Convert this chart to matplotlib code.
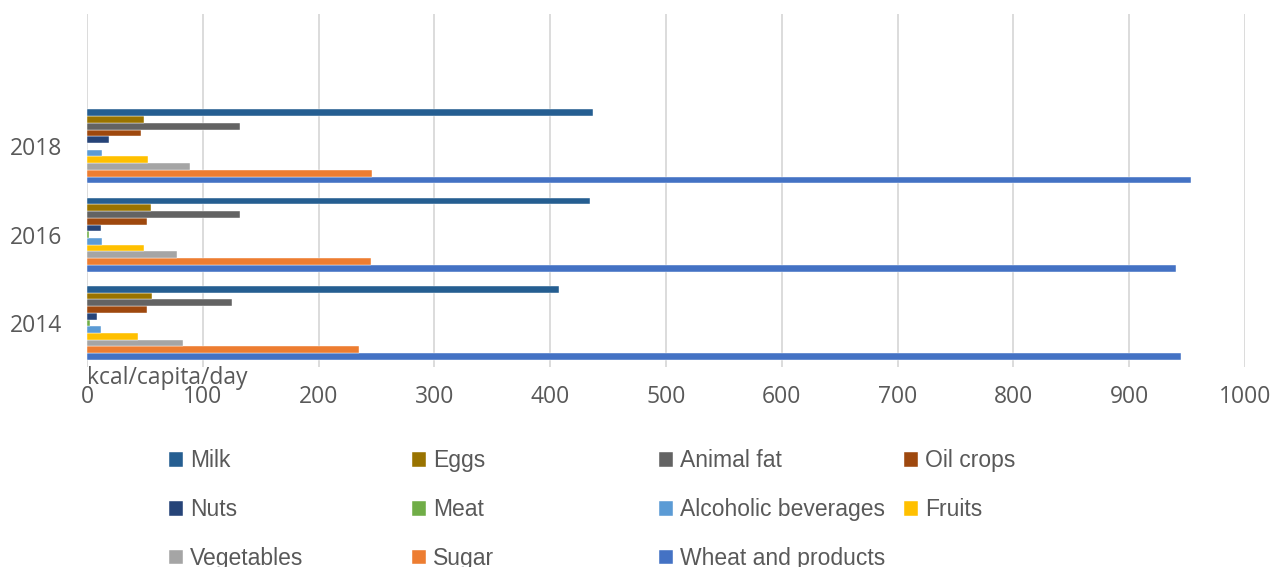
import numpy as np
import matplotlib.pyplot as plt

years = ["2014", "2016", "2018"]

# kcal/capita/day per food group, values for 2014, 2016, 2018
wheat = [945, 940, 953]
sugar = [235, 245, 246]
vegetables = [83, 78, 89]
fruits = [44, 49, 53]
alcoholic = [12, 13, 13]
meat = [3, 1.5, 0]
nuts = [9, 12, 19]
oil_crops = [52, 52, 47]
animal_fat = [125, 132, 132]
eggs = [56, 55, 49]
milk = [408, 434, 437]

series = [
    ("Wheat and products", wheat, "#4472C4"),
    ("Sugar", sugar, "#ED7D31"),
    ("Vegetables", vegetables, "#A5A5A5"),
    ("Fruits", fruits, "#FFC000"),
    ("Alcoholic beverages", alcoholic, "#5B9BD5"),
    ("Meat", meat, "#70AD47"),
    ("Nuts", nuts, "#264478"),
    ("Oil crops", oil_crops, "#9E480E"),
    ("Animal fat", animal_fat, "#636363"),
    ("Eggs", eggs, "#997300"),
    ("Milk", milk, "#255E91"),
]

fig = plt.figure(figsize=(12.77, 5.67), dpi=100)
ax = fig.add_axes([87 / 1277, 1 - 367 / 567, (1245 - 87) / 1277, 353 / 567])

y = np.arange(len(years))
h = 0.0763
bars = {}
for i, (name, vals, color) in enumerate(series):
    bars[name] = ax.barh(y + (i - 5) * h, vals, height=h, color=color, label=name,
                         edgecolor="white", linewidth=0.3)

ax.set_xlim(0, 1000)
ax.set_ylim(-0.5, 3.5)
ax.set_xticks(np.arange(0, 1001, 100))
ax.set_yticks(y)
ax.set_yticklabels(years)
ax.grid(axis="x", color="#D9D9D9", linewidth=1.3)
ax.set_axisbelow(True)
for s in ax.spines.values():
    s.set_visible(False)
ax.tick_params(length=0, labelsize=16.5, labelcolor="#595959")
ax.tick_params(axis="x", pad=13)
ax.tick_params(axis="y", pad=18)
for lab in ax.get_xticklabels() + ax.get_yticklabels():
    lab.set_fontfamily("Open Sans")

ax.text(0, -0.62, "kcal/capita/day", fontsize=16.5, color="#595959",
        fontfamily="Open Sans", va="center", ha="left")

# legend laid out row by row in four columns
order = ["Milk", "Eggs", "Animal fat", "Oil crops",
         "Nuts", "Meat", "Alcoholic beverages", "Fruits",
         "Vegetables", "Sugar", "Wheat and products"]
col_x = [158, 401, 648, 893]
for c in range(4):
    names = order[c::4]
    leg = fig.legend([bars[n] for n in names], names, loc="upper left",
                     bbox_to_anchor=(col_x[c] / 1277, 1 - 438 / 567),
                     frameon=False, handlelength=0.6, handleheight=0.6,
                     handletextpad=0.3, labelspacing=1.13, borderpad=0,
                     prop={"family": "Liberation Sans", "size": 16.5})
    for t in leg.get_texts():
        t.set_color("#595959")

fig.savefig("out.png", dpi=100)
